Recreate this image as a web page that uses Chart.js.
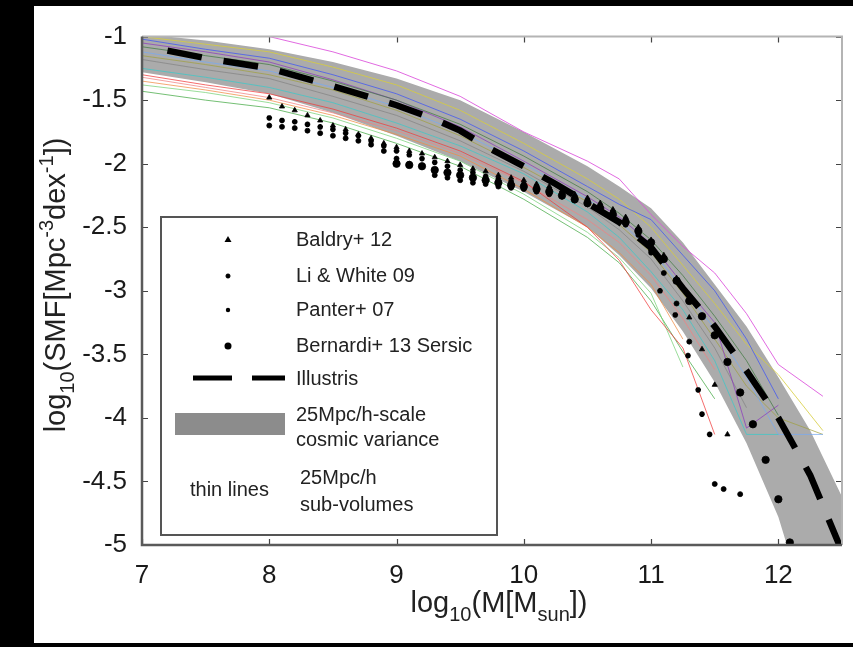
<!DOCTYPE html>
<html>
<head>
<meta charset="utf-8">
<title>Stellar mass function</title>
<script src="https://cdn.jsdelivr.net/npm/chart.js@4.4.1/dist/chart.umd.min.js"></script>
<style>
html, body { margin: 0; padding: 0; background: #000; }
#wrap { position: absolute; left: 34px; top: 6px; width: 819px; height: 637px; background: #fff; }
</style>
</head>
<body>
<div id="wrap"><canvas id="chart" width="819" height="637"></canvas></div>
<script>
// axis ticks
const xTicks = [7, 8, 9, 10, 11, 12];
const yTicks = [-1, -1.5, -2, -2.5, -3, -3.5, -4, -4.5, -5];
const yTickLabels = ['-1', '-1.5', '-2', '-2.5', '-3', '-3.5', '-4', '-4.5', '-5'];

// Illustris (dashed)
const illX = [7.2, 7.5, 8.0, 8.5, 9.0, 9.3, 9.5, 9.75, 10.0, 10.25, 10.5, 10.75, 11.0, 11.25, 11.5, 11.75, 12.0, 12.25, 12.5];
const illY = [-1.11, -1.17, -1.25, -1.39, -1.54, -1.65, -1.74, -1.89, -2.02, -2.16, -2.31, -2.46, -2.66, -2.98, -3.28, -3.63, -4.0, -4.45, -5.05];

// cosmic variance band
const bandX = [7, 7.5, 8, 8.5, 9, 9.5, 10, 10.5, 10.75, 11, 11.25, 11.5, 11.75, 12, 12.25, 12.5];
const bandUpper = [-0.98, -1.03, -1.1, -1.2, -1.33, -1.5, -1.75, -2.02, -2.18, -2.35, -2.62, -2.95, -3.28, -3.68, -4.1, -4.62];
const bandLower = [-1.28, -1.36, -1.45, -1.6, -1.78, -1.98, -2.22, -2.5, -2.72, -2.98, -3.32, -3.72, -4.2, -4.78, -5.6, -6.5];

// 25Mpc/h sub-volumes (thin lines)
const subX = [7, 7.5, 8, 8.5, 9, 9.5, 10, 10.5, 10.75, 11, 11.25, 11.5, 11.75, 12, 12.35];
const subMagenta = [-0.95, -0.98, -1.0, -1.12, -1.27, -1.47, -1.75, -1.98, -2.12, -2.4, -2.65, -2.86, -3.18, -3.58, -3.83];
const subBlue = [-1.02, -1.1, -1.17, -1.3, -1.45, -1.65, -1.9, -2.18, -2.32, -2.44, -2.72, -3.0, -3.38, -3.85, null];
const subYellow = [-1.0, -1.06, -1.12, -1.24, -1.38, -1.58, -1.84, -2.12, -2.28, -2.5, -2.8, -3.1, -3.42, -3.66, -4.1];
const subDkGreen = [-1.08, -1.15, -1.22, -1.35, -1.5, -1.69, -1.94, -2.22, -2.39, -2.6, -2.88, -3.2, -3.55, -3.98, null];
const subPurple = [-1.05, -1.12, -1.2, -1.34, -1.5, -1.71, -1.98, -2.26, -2.42, -2.63, -2.95, -3.25, -4.08, -3.9, null];
const subGray = [-1.18, -1.26, -1.33, -1.47, -1.62, -1.82, -2.06, -2.34, -2.52, -2.75, -3.08, -3.45, -3.92, null, null];
const subCyan = [-1.25, -1.32, -1.4, -1.52, -1.68, -1.86, -2.08, -2.38, -2.58, -2.85, -3.15, -3.55, -4.13, -4.13, null];
const subRed = [-1.3, -1.38, -1.45, -1.57, -1.72, -1.9, -2.14, -2.5, -2.76, -3.15, -3.45, -4.13, null, null, null];
const subPink = [-1.32, -1.4, -1.48, -1.6, -1.74, -1.92, -2.15, -2.44, -2.62, -2.88, -3.22, -3.62, null, null, null];
const subOrange = [-1.35, -1.42, -1.5, -1.62, -1.77, -1.94, -2.2, -2.5, -2.7, -2.95, -3.38, null, null, null, null];
const subLtGreen = [-1.38, -1.44, -1.52, -1.64, -1.8, -1.98, -2.24, -2.54, -2.74, -3.02, -3.6, null, null, null, null];
const subGreen = [-1.43, -1.5, -1.56, -1.68, -1.84, -2.02, -2.28, -2.58, -2.78, -3.08, -3.48, -3.85, null, null, null];
const subSky = [-1.12, -1.2, -1.27, -1.4, -1.55, -1.75, -2.0, -2.28, -2.45, -2.68, -2.98, -3.3, -3.68, -4.13, -4.13];
const subOlive = [-1.15, -1.22, -1.3, -1.42, -1.58, -1.78, -2.03, -2.3, -2.48, -2.7, -3.02, -3.38, -3.75, -4.0, -4.13];

// observations
const baldryX = [8.0, 8.1, 8.2, 8.3, 8.4, 8.5, 8.6, 8.7, 8.8, 8.9, 9.0, 9.1, 9.2, 9.3, 9.4, 9.5, 9.6, 9.7, 9.8, 9.9, 10.0, 10.1, 10.2, 10.3, 10.4, 10.5, 10.6, 10.7, 10.8, 10.9, 11.0, 11.1, 11.2, 11.3, 11.4, 11.5, 11.6];
const baldryY = [-1.48, -1.55, -1.58, -1.62, -1.66, -1.7, -1.73, -1.77, -1.8, -1.84, -1.87, -1.9, -1.92, -1.95, -1.98, -2.01, -2.04, -2.06, -2.09, -2.11, -2.13, -2.16, -2.18, -2.21, -2.24, -2.27, -2.31, -2.36, -2.42, -2.5, -2.6, -2.72, -2.9, -3.21, -3.46, -3.74, -4.13];
const liWhiteX = [8.0, 8.1, 8.2, 8.3, 8.4, 8.5, 8.6, 8.7, 8.8, 8.9, 9.0, 9.1, 9.2, 9.3, 9.4, 9.5, 9.6, 9.7, 9.8, 9.9, 10.0, 10.1, 10.2, 10.3, 10.4, 10.5, 10.6, 10.7, 10.8, 10.9, 11.0, 11.07, 11.19, 11.29, 11.37, 11.4, 11.46];
const liWhiteY = [-1.64, -1.66, -1.67, -1.69, -1.71, -1.73, -1.76, -1.78, -1.82, -1.86, -1.9, -1.93, -1.96, -1.99, -2.02, -2.05, -2.07, -2.1, -2.12, -2.14, -2.16, -2.18, -2.2, -2.23, -2.26, -2.29, -2.33, -2.38, -2.44, -2.52, -2.7, -3.0, -3.19, -3.51, -3.78, -3.97, -4.13];
const panterX = [8.0, 8.1, 8.2, 8.3, 8.4, 8.5, 8.6, 8.7, 8.8, 8.9, 9.0, 9.1, 9.2, 9.3, 9.4, 9.5, 9.6, 9.7, 9.8, 9.9, 10.0, 10.1, 10.2, 10.3, 10.4, 10.5, 10.6, 10.7, 10.8, 10.9, 11.0, 11.1, 11.2, 11.3, 11.5, 11.57, 11.7];
const panterY = [-1.7, -1.71, -1.72, -1.74, -1.76, -1.78, -1.8, -1.82, -1.85, -1.9, -1.96, -2.0, -2.02, -2.09, -2.11, -2.13, -2.15, -2.16, -2.18, -2.19, -2.2, -2.22, -2.24, -2.26, -2.29, -2.32, -2.36, -2.41, -2.48, -2.56, -2.68, -2.86, -3.1, -3.4, -4.52, -4.56, -4.6];
const bernardiX = [9.0, 9.1, 9.2, 9.3, 9.4, 9.5, 9.6, 9.7, 9.8, 9.9, 10.0, 10.1, 10.2, 10.3, 10.4, 10.5, 10.6, 10.7, 10.8, 10.9, 11.0, 11.1, 11.2, 11.3, 11.4, 11.5, 11.6, 11.7, 11.8, 11.9, 12.0, 12.09];
const bernardiY = [-2.0, -2.01, -2.02, -2.05, -2.07, -2.09, -2.11, -2.13, -2.15, -2.17, -2.18, -2.2, -2.22, -2.25, -2.28, -2.31, -2.35, -2.4, -2.46, -2.53, -2.62, -2.75, -2.92, -3.08, -3.2, -3.35, -3.56, -3.8, -4.05, -4.33, -4.64, -4.98];

function pts(xs, ys) {
    return xs.map((x, i) => ({x: x, y: ys[i]}));
}

function thin(ys, color) {
    return {
        data: pts(subX, ys),
        showLine: true,
        borderColor: color,
        borderWidth: 1,
        pointRadius: 0,
        fill: false,
        order: 3
    };
}

function dots(xs, ys, style, r) {
    return {
        data: pts(xs, ys),
        showLine: false,
        pointStyle: style,
        pointRadius: r,
        backgroundColor: '#000',
        borderColor: '#000',
        borderWidth: style === 'star' ? 1.8 : 0.8,
        order: 1
    };
}

const FONT = '"Liberation Sans", Arial, Helvetica, sans-serif';

// inward ticks and box
const framePlugin = {
    id: 'frame',
    afterDatasetsDraw(chart) {
        const ctx = chart.ctx;
        const a = chart.chartArea;
        const x = chart.scales.x, y = chart.scales.y;
        ctx.save();
        ctx.strokeStyle = '#444';
        ctx.lineWidth = 1.2;
        ctx.beginPath();
        xTicks.forEach(v => {
            const px = Math.round(x.getPixelForValue(v)) + 0.5;
            ctx.moveTo(px, a.bottom); ctx.lineTo(px, a.bottom - 6);
            ctx.moveTo(px, a.top); ctx.lineTo(px, a.top + 6);
        });
        yTicks.forEach(v => {
            const py = Math.round(y.getPixelForValue(v)) + 0.5;
            ctx.moveTo(a.left, py); ctx.lineTo(a.left + 6, py);
            ctx.moveTo(a.right, py); ctx.lineTo(a.right - 6, py);
        });
        ctx.stroke();
        // top and right in light gray
        ctx.strokeStyle = '#b4b4b4';
        ctx.lineWidth = 2;
        ctx.beginPath();
        ctx.moveTo(a.left, a.top); ctx.lineTo(a.right, a.top); ctx.lineTo(a.right, a.bottom);
        ctx.stroke();
        // left and bottom darker
        ctx.strokeStyle = '#5a5a5a';
        ctx.lineWidth = 2.5;
        ctx.beginPath();
        ctx.moveTo(a.left, a.top); ctx.lineTo(a.left, a.bottom); ctx.lineTo(a.right, a.bottom);
        ctx.stroke();
        ctx.restore();
    }
};

const legendPlugin = {
    id: 'boxLegend',
    afterDraw(chart) {
        const ctx = chart.ctx;
        ctx.save();
        ctx.fillStyle = '#fff';
        ctx.fillRect(127, 211, 336, 318);
        ctx.strokeStyle = '#555';
        ctx.lineWidth = 2;
        ctx.strokeRect(127, 211, 336, 318);

        ctx.fillStyle = '#000';
        // Baldry triangle
        ctx.beginPath();
        ctx.moveTo(194, 230); ctx.lineTo(197.5, 236); ctx.lineTo(190.5, 236); ctx.closePath();
        ctx.fill();
        // Li & White star
        ctx.strokeStyle = '#000';
        ctx.lineWidth = 1.5;
        ctx.beginPath();
        ctx.moveTo(191.5, 270); ctx.lineTo(196.5, 270);
        ctx.moveTo(194, 267.5); ctx.lineTo(194, 272.5);
        ctx.moveTo(192.3, 268.3); ctx.lineTo(195.7, 271.7);
        ctx.moveTo(195.7, 268.3); ctx.lineTo(192.3, 271.7);
        ctx.stroke();
        // Panter dot
        ctx.beginPath(); ctx.arc(194, 304, 2.2, 0, Math.PI * 2); ctx.fill();
        // Bernardi dot
        ctx.beginPath(); ctx.arc(194, 340, 3.5, 0, Math.PI * 2); ctx.fill();
        // Illustris dash
        ctx.lineWidth = 5;
        ctx.setLineDash([39, 20]);
        ctx.beginPath(); ctx.moveTo(159, 372); ctx.lineTo(251, 372); ctx.stroke();
        ctx.setLineDash([]);
        // variance patch
        ctx.fillStyle = '#8c8c8c';
        ctx.fillRect(141, 407, 110, 22);

        ctx.fillStyle = '#222';
        ctx.font = '20px ' + FONT;
        ctx.textBaseline = 'middle';
        ctx.textAlign = 'left';
        ctx.fillText('Baldry+ 12', 262, 234);
        ctx.fillText('Li & White 09', 262, 270);
        ctx.fillText('Panter+ 07', 262, 304);
        ctx.fillText('Bernardi+ 13 Sersic', 262, 340);
        ctx.fillText('Illustris', 262, 373);
        ctx.fillText('25Mpc/h-scale', 262, 409);
        ctx.fillText('cosmic variance', 262, 434);
        ctx.fillText('thin lines', 156, 484);
        ctx.fillText('25Mpc/h', 266, 472);
        ctx.fillText('sub-volumes', 266, 499);
        ctx.restore();
    }
};

// axis titles with sub/superscripts
const xTitleParts = [['log', 0], ['10', 1], ['(M[M', 0], ['sun', 1], ['])', 0]];
const yTitleParts = [['log', 0], ['10', 1], ['(SMF[Mpc', 0], ['-3', 2], ['dex', 0], ['-1', 2], ['])', 0]];

function drawRich(ctx, parts, cx, base, size) {
    const small = Math.round(size * 0.68);
    const fonts = [size + 'px ' + FONT, small + 'px ' + FONT, small + 'px ' + FONT];
    const shift = [0, size * 0.32, -size * 0.42];
    let total = 0;
    const widths = parts.map(p => { ctx.font = fonts[p[1]]; const w = ctx.measureText(p[0]).width; total += w; return w; });
    let px = cx - total / 2;
    ctx.textAlign = 'left';
    ctx.textBaseline = 'alphabetic';
    parts.forEach((p, i) => {
        ctx.font = fonts[p[1]];
        ctx.fillText(p[0], px, base + shift[p[1]]);
        px += widths[i];
    });
}

const titlePlugin = {
    id: 'titles',
    afterDraw(chart) {
        const ctx = chart.ctx;
        ctx.save();
        ctx.fillStyle = '#222';
        drawRich(ctx, xTitleParts, 465, 606, 29);
        ctx.translate(31, 279);
        ctx.rotate(-Math.PI / 2);
        drawRich(ctx, yTitleParts, 0, 0, 29);
        ctx.restore();
    }
};

const datasets = [
    {data: pts(bandX, bandUpper), showLine: true, borderWidth: 0, borderColor: 'rgba(0,0,0,0)', pointRadius: 0, fill: false, order: 5},
    {data: pts(bandX, bandLower), showLine: true, borderWidth: 0, borderColor: 'rgba(0,0,0,0)', pointRadius: 0, fill: {target: 0}, backgroundColor: '#ababab', order: 5},
    thin(subMagenta, 'rgba(220,80,220,0.85)'),
    thin(subBlue, 'rgba(70,90,240,0.8)'),
    thin(subYellow, 'rgba(215,205,60,0.8)'),
    thin(subDkGreen, 'rgba(60,120,60,0.7)'),
    thin(subPurple, 'rgba(140,60,190,0.75)'),
    thin(subGray, 'rgba(130,130,130,0.7)'),
    thin(subCyan, 'rgba(60,200,200,0.75)'),
    thin(subRed, 'rgba(240,60,60,0.75)'),
    thin(subPink, 'rgba(240,130,130,0.75)'),
    thin(subOrange, 'rgba(240,140,70,0.75)'),
    thin(subLtGreen, 'rgba(120,210,120,0.75)'),
    thin(subGreen, 'rgba(70,170,70,0.75)'),
    thin(subSky, 'rgba(120,170,240,0.75)'),
    thin(subOlive, 'rgba(160,160,60,0.7)'),
    {data: pts(illX, illY), showLine: true, borderColor: '#000', borderWidth: 6.5, borderDash: [35, 22], borderCapStyle: 'butt', pointRadius: 0, fill: false, order: 2},
    dots(baldryX, baldryY, 'triangle', 3),
    dots(liWhiteX, liWhiteY, 'star', 2.8),
    dots(panterX, panterY, 'circle', 2.5),
    dots(bernardiX, bernardiY, 'circle', 3.7)
];

new Chart(document.getElementById('chart'), {
    type: 'scatter',
    data: {datasets: datasets},
    options: {
        responsive: false,
        animation: false,
        events: [],
        layout: {padding: {left: 0, top: 24, right: 11, bottom: 0}},
        plugins: {legend: {display: false}, tooltip: {enabled: false}},
        scales: {
            x: {
                type: 'linear', min: 7, max: 12.5,
                grid: {display: false, drawTicks: false},
                border: {display: false},
                afterBuildTicks: s => { s.ticks = xTicks.map(v => ({value: v})); },
                afterFit: s => { s.height = 98; },
                ticks: {padding: 15, color: '#1a1a1a', font: {size: 26, family: FONT}, maxRotation: 0}
            },
            y: {
                type: 'linear', min: -5, max: -1,
                grid: {display: false, drawTicks: false},
                border: {display: false},
                afterBuildTicks: s => { s.ticks = yTicks.map(v => ({value: v})); },
                afterFit: s => { s.width = 108; },
                ticks: {
                    padding: 15, color: '#1a1a1a', font: {size: 26, family: FONT},
                    callback: v => yTickLabels[yTicks.indexOf(v)]
                }
            }
        }
    },
    plugins: [framePlugin, legendPlugin, titlePlugin]
});
</script>
</body>
</html>
